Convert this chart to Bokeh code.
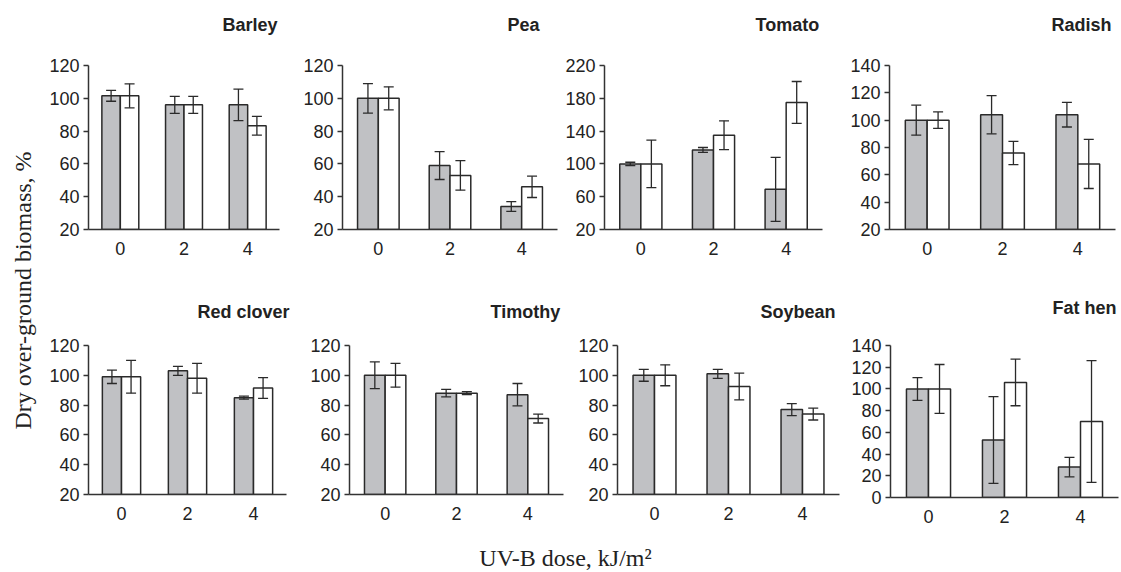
import math
from bokeh.plotting import figure
from bokeh.layouts import row, column
from bokeh.models import Range1d, FixedTicker, Label, Whisker, ColumnDataSource, TeeHead
from bokeh.embed import file_html
from bokeh.resources import INLINE

doses = ["0", "2", "4"]

barley_gray = [101.5, 96, 96]
barley_gray_err = [3.3, 5.2, 9.6]
barley_white = [101.5, 96, 83.3]
barley_white_err = [7.3, 5.2, 5.7]

pea_gray = [100, 59, 34]
pea_gray_err = [9, 8.5, 3]
pea_white = [100, 53, 46]
pea_white_err = [7, 9, 6.5]

tomato_gray = [100, 117, 69]
tomato_gray_err = [2, 3, 39]
tomato_white = [100, 135, 175]
tomato_white_err = [29, 17.5, 25.5]

radish_gray = [100, 104, 104]
radish_gray_err = [11, 14, 9]
radish_white = [100, 76, 68]
radish_white_err = [6, 8.5, 18]

clover_gray = [99, 103, 85]
clover_gray_err = [4.5, 3, 1]
clover_white = [99, 98, 91.5]
clover_white_err = [11, 10, 7]

timothy_gray = [100, 88, 87]
timothy_gray_err = [9, 2.5, 7.5]
timothy_white = [100, 88, 71]
timothy_white_err = [8, 1, 3]

soybean_gray = [100, 101, 77]
soybean_gray_err = [4, 3, 4]
soybean_white = [100, 92.5, 74]
soybean_white_err = [7, 9, 4]

fathen_gray = [100, 53, 28]
fathen_gray_err = [10.5, 40, 9]
fathen_white = [100, 106, 70]
fathen_white_err = [22.5, 21.5, 56]

row1_titles = ["Barley", "Pea", "Tomato", "Radish"]
row2_titles = ["Red clover", "Timothy", "Soybean", "Fat hen"]

GRAY = "#c0c1c4"
EDGE = "#2a2a2a"
TXT = "#222222"
SANS = "Liberation Sans"
SERIF = "Liberation Serif"


def blank(w, h):
    f = figure(width=w, height=h, min_border=0, x_range=Range1d(0, w), y_range=Range1d(0, h),
               x_axis_type=None, y_axis_type=None, output_backend="svg", toolbar_location=None)
    f.outline_line_color = None
    f.grid.visible = False
    f.background_fill_color = "white"
    f.border_fill_color = "white"
    return f


def panel(ymin, ymax, ystep, g, ge, w, we, mbl, fw, mbr, top, fh, bottom):
    p = figure(frame_width=fw, frame_height=fh, min_border_left=mbl, min_border_right=mbr,
               min_border_top=top, min_border_bottom=bottom,
               x_range=Range1d(-0.5, 2.5), y_range=Range1d(ymin, ymax),
               output_backend="svg", toolbar_location=None)
    p.outline_line_color = None
    p.grid.visible = False
    p.background_fill_color = "white"
    p.border_fill_color = "white"

    idx = list(range(len(doses)))
    xg = [i - 0.145 for i in idx]
    xw = [i + 0.145 for i in idx]
    src = ColumnDataSource(dict(
        xg=xg, xw=xw, g=g, w=w,
        gu=[a + b for a, b in zip(g, ge)], gl=[a - b for a, b in zip(g, ge)],
        wu=[a + b for a, b in zip(w, we)], wl=[a - b for a, b in zip(w, we)],
    ))
    p.vbar(x="xg", top="g", bottom=ymin, width=0.29, source=src,
           fill_color=GRAY, line_color=EDGE, line_width=1.5)
    p.vbar(x="xw", top="w", bottom=ymin, width=0.29, source=src,
           fill_color="white", line_color=EDGE, line_width=1.5)
    for base, up, lo in (("xg", "gu", "gl"), ("xw", "wu", "wl")):
        wk = Whisker(base=base, upper=up, lower=lo, source=src, dimension="height",
                     level="overlay", line_color=EDGE, line_width=1.3,
                     upper_head=TeeHead(size=10, line_color=EDGE, line_width=1.3),
                     lower_head=TeeHead(size=10, line_color=EDGE, line_width=1.3))
        p.add_layout(wk)

    xa = p.xaxis[0]
    xa.ticker = FixedTicker(ticks=idx)
    xa.major_label_overrides = {i: d for i, d in zip(idx, doses)}
    xa.major_tick_line_color = None
    xa.major_tick_out = 0
    xa.major_tick_in = 0
    xa.minor_tick_line_color = None
    xa.axis_line_color = "#333333"
    xa.axis_line_width = 1.5
    xa.major_label_standoff = 12
    xa.major_label_text_font = SANS
    xa.major_label_text_font_size = "18px"
    xa.major_label_text_color = TXT

    ya = p.yaxis[0]
    ticks = list(range(ymin, ymax + 1, ystep))
    ya.ticker = FixedTicker(ticks=ticks)
    ya.major_tick_out = 5
    ya.major_tick_in = 0
    ya.minor_tick_line_color = None
    ya.major_tick_line_color = "#333333"
    ya.major_tick_line_width = 1.3
    ya.axis_line_color = "#333333"
    ya.axis_line_width = 1.5
    ya.major_label_standoff = 4
    ya.major_label_text_font = SANS
    ya.major_label_text_font_size = "18px"
    ya.major_label_text_color = TXT
    return p


T1, H1, B1 = 20, 164, 51
T2, H2, B2 = 20, 149, 36

p1 = panel(20, 120, 20, barley_gray, barley_gray_err, barley_white, barley_white_err, 42, 191, 21, T1, H1, B1)
p2 = panel(20, 120, 20, pea_gray, pea_gray_err, pea_white, pea_white_err, 42, 215, 5, T1, H1, B1)
p3 = panel(20, 220, 40, tomato_gray, tomato_gray_err, tomato_white, tomato_white_err, 42, 218, 25, T1, H1, B1)
p4 = panel(20, 140, 20, radish_gray, radish_gray_err, radish_white, radish_white_err, 42, 226, 4, T1, H1, B1)

p5 = panel(20, 120, 20, clover_gray, clover_gray_err, clover_white, clover_white_err, 41, 198, 21, T2, H2, B2)
p6 = panel(20, 120, 20, timothy_gray, timothy_gray_err, timothy_white, timothy_white_err, 42, 214, 12, T2, H2, B2)
p7 = panel(20, 120, 20, soybean_gray, soybean_gray_err, soybean_white, soybean_white_err, 42, 222, 9, T2, H2, B2)
p8 = panel(0, 140, 20, fathen_gray, fathen_gray_err, fathen_white, fathen_white_err, 42, 228, 2, T2 - 4, H2 + 3, B2 + 1)

STRIP_W, STRIP_H = 1073, 45
strip1 = blank(STRIP_W, STRIP_H)
for t, x0, y0 in zip(row1_titles, [176, 461, 709, 1005], [21, 21, 21, 21]):
    strip1.add_layout(Label(x=x0, y=y0, text=t, text_align="left", text_baseline="middle",
                            text_font=SANS, text_font_style="bold", text_font_size="18px",
                            text_color=TXT))
strip2 = blank(STRIP_W, STRIP_H)
for t, x0, y0 in zip(row2_titles, [151, 444, 714, 1006], [14, 14, 14, 18]):
    strip2.add_layout(Label(x=x0, y=y0, text=t, text_align="left", text_baseline="middle",
                            text_font=SANS, text_font_style="bold", text_font_size="18px",
                            text_color=TXT))

ylab = blank(46, 530)
ylab.add_layout(Label(x=22, y=240, text="Dry over-ground biomass, %", angle=math.pi / 2,
                      text_align="center", text_baseline="middle", text_font=SERIF,
                      text_font_size="24px", text_color=TXT))

xlab = blank(1119, 40)
xlab.add_layout(Label(x=565, y=13, text="UV-B dose, kJ/m²", text_align="center",
                      text_baseline="middle", text_font=SERIF, text_font_size="24px",
                      text_color=TXT))

grid = column(strip1, row(p1, p2, p3, p4, spacing=0), strip2, row(p5, p6, p7, p8, spacing=0), spacing=0)
layout = column(row(ylab, grid, spacing=0), xlab, spacing=0)

open("out.html", "w").write(file_html(layout, INLINE))
